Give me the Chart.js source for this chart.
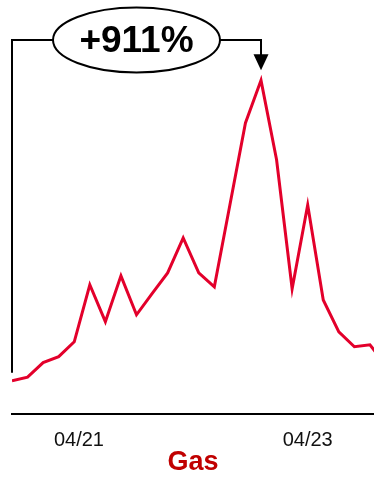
<!DOCTYPE html>
<html>
<head>
<meta charset="utf-8">
<script src="https://cdn.jsdelivr.net/npm/chart.js@4"></script>
<style>
  html, body { margin: 0; padding: 0; background: #fff; }
  #wrap { width: 374px; height: 478px; position: relative; }
</style>
</head>
<body>
<div id="wrap"><canvas id="gas"></canvas></div>
<script>
// gas price index, first period = 100
const gasIndex = [100, 111, 155, 173, 218, 391, 279, 418, 300, 364, 427, 533, 427, 385,
                  633, 882, 1011, 770, 379, 633, 345, 248, 203, 209, 148];
const tickAt = [4.3, 19.0];
const tickLabels = ['04/21', '04/23'];
const seriesName = 'Gas';

const FONT = "'Liberation Sans', Arial, Helvetica, sans-serif";

const peakIdx = gasIndex.indexOf(Math.max(...gasIndex));
const change = Math.round((gasIndex[peakIdx] / gasIndex[0] - 1) * 100);

// bracket from the first value to the peak, with the % change in an ellipse
const changeCallout = {
  id: 'changeCallout',
  afterDatasetsDraw(chart) {
    const {ctx, scales: {x, y}} = chart;
    const x0 = x.getPixelForValue(0);
    const y0 = y.getPixelForValue(gasIndex[0]);
    const xp = x.getPixelForValue(peakIdx);
    const yp = y.getPixelForValue(gasIndex[peakIdx]);
    const top = 40;
    const cx = 136.5, rx = 83.5, ry = 32.5;

    ctx.save();
    ctx.strokeStyle = '#000';
    ctx.fillStyle = '#000';
    ctx.lineWidth = 2;

    ctx.beginPath();
    ctx.moveTo(x0, y0 - 8);
    ctx.lineTo(x0, top);
    ctx.lineTo(cx - rx, top);
    ctx.moveTo(cx + rx, top);
    ctx.lineTo(xp, top);
    ctx.lineTo(xp, yp - 25);
    ctx.stroke();

    // arrow head
    ctx.beginPath();
    ctx.moveTo(xp - 7.5, yp - 26);
    ctx.lineTo(xp + 7.5, yp - 26);
    ctx.lineTo(xp, yp - 10);
    ctx.closePath();
    ctx.fill();

    ctx.beginPath();
    ctx.ellipse(cx, top, rx, ry, 0, 0, Math.PI * 2);
    ctx.fillStyle = '#fff';
    ctx.fill();
    ctx.stroke();

    ctx.fillStyle = '#000';
    ctx.font = 'bold 37px ' + FONT;
    ctx.textAlign = 'center';
    ctx.textBaseline = 'middle';
    ctx.fillText('+' + change + '%', cx, top + 2);
    ctx.restore();
  }
};

new Chart(document.getElementById('gas'), {
  type: 'line',
  data: {
    datasets: [{
      label: seriesName,
      data: gasIndex.map((v, i) => ({x: i, y: v})),
      borderColor: '#E3002B',
      borderWidth: 3,
      pointRadius: 0,
      tension: 0,
      fill: false
    }]
  },
  options: {
    responsive: true,
    maintainAspectRatio: false,
    animation: false,
    layout: {padding: {left: 12, right: 0, top: 51, bottom: 3}},
    plugins: {
      legend: {display: false},
      tooltip: {enabled: false},
      title: {
        display: true,
        position: 'bottom',
        text: seriesName,
        color: '#C00000',
        font: {family: FONT, size: 27, weight: 'bold', lineHeight: 0.9},
        padding: {top: 0, bottom: 0}
      }
    },
    scales: {
      x: {
        type: 'linear',
        min: 0,
        max: 23.26,
        grid: {display: false, drawTicks: false},
        border: {display: true, color: '#000', width: 2},
        afterBuildTicks: (scale) => {
          scale.ticks = tickAt.map(v => ({value: v}));
        },
        // keep the axis box tight: labels sit 17px under the line
        afterFit: (scale) => {
          scale.height = 37;
        },
        ticks: {
          autoSkip: false,
          maxRotation: 0,
          padding: 17,
          color: '#111',
          font: {family: FONT, size: 20, lineHeight: 1},
          callback: (v, i) => tickLabels[i]
        }
      },
      y: {
        display: false,
        min: 0,
        max: 1100
      }
    }
  },
  plugins: [changeCallout]
});
</script>
</body>
</html>
